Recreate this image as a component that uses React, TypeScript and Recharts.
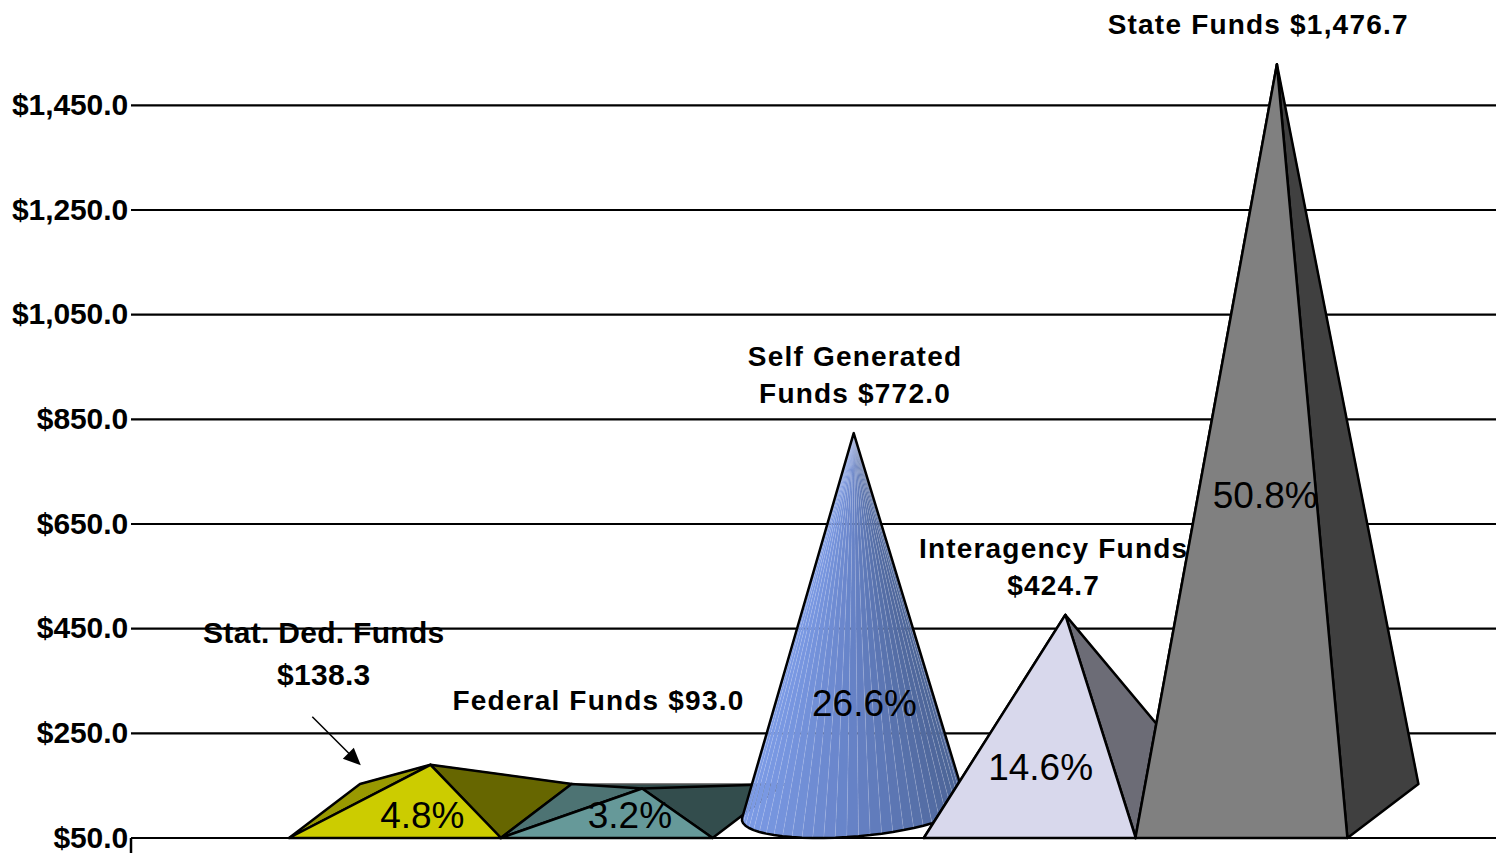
import React from 'react';
import { Bar, CartesianGrid, ComposedChart, Line, XAxis, YAxis } from 'recharts';

const categories = ['Stat. Ded. Funds', 'Federal Funds', 'Self Generated Funds', 'Interagency Funds', 'State Funds'];
const amounts = [138.3, 93.0, 772.0, 424.7, 1476.7];
const shares = ['4.8%', '3.2%', '26.6%', '14.6%', '50.8%'];
const labelLines = [
  ['Stat. Ded. Funds', '$138.3'],
  ['Federal Funds $93.0'],
  ['Self Generated', 'Funds $772.0'],
  ['Interagency Funds', '$424.7'],
  ['State Funds $1,476.7'],
];
const yTicks = [50, 250, 450, 650, 850, 1050, 1250, 1450];

const rows = categories.map((name, i) => ({ name, amount: amounts[i], share: shares[i] }));

// front / left side / right side of each solid (index 2 is the cone, shaded separately)
const faceColors = [
  ['#CCCC00', '#999900', '#666600'],
  ['#669999', '#4D7373', '#334D4D'],
  null,
  ['#D8D8EC', '#A0A0B0', '#6C6C76'],
  ['#808080', '#606060', '#404040'],
];

// where the text sits, relative to the category centre and the value position
const nameOffset = [[-71, -159], [-8, -115], [37, -104], [24, -93], [17, -67]];
const shareOffset = [[27.5, 24], [23.5, 0], [46.5, 243], [11, 126], [24, 404]];

const DEPTH_X = 71;
const DEPTH_Y = 54;
const FONT = '"Liberation Sans", Arial, sans-serif';

const pts = (list: number[][]) => list.map((p) => p.join(',')).join(' ');

const mix = (a: number[], b: number[], t: number) => a.map((v, i) => Math.round(v + (b[i] - v) * t));

const coneColor = (u: number) => {
  const left = [124, 155, 230];
  const mid = [102, 130, 198];
  const right = [76, 100, 150];
  const c = u < 0.5 ? mix(left, mid, u * 2) : mix(mid, right, (u - 0.5) * 2);
  return `rgb(${c.join(',')})`;
};

const Cone = ({ x, y, width, height }: any) => {
  const base = y + height;
  const cx = x + width / 2 + DEPTH_X / 2;
  const cy = base - DEPTH_Y / 2;
  const apex = [cx, y - DEPTH_Y / 2];
  const rim = (deg: number) => {
    const t = (deg * Math.PI) / 180;
    return [cx + (Math.cos(t) * width) / 2 + (Math.sin(t) * DEPTH_X) / 2, cy - (Math.sin(t) * DEPTH_Y) / 2];
  };
  // find the two silhouette points, seen from the apex
  let minDeg = 0;
  let maxDeg = 0;
  let minA = Infinity;
  let maxA = -Infinity;
  for (let d = 90; d < 450; d += 1) {
    const p = rim(d);
    const a = Math.atan2(p[0] - apex[0], p[1] - apex[1]);
    if (a < minA) { minA = a; minDeg = d; }
    if (a > maxA) { maxA = a; maxDeg = d; }
  }
  const arc: number[][] = [];
  for (let d = minDeg; d < maxDeg; d += 6) arc.push(rim(d));
  arc.push(rim(maxDeg));
  const xLeft = arc[0][0];
  const xRight = arc[arc.length - 1][0];
  return (
    <g>
      {arc.slice(1).map((p, i) => {
        const u = ((p[0] + arc[i][0]) / 2 - xLeft) / (xRight - xLeft);
        return (
          <polygon
            key={i}
            points={pts([apex, arc[i], p])}
            fill={coneColor(u)}
            stroke="rgba(225,232,250,0.22)"
            strokeWidth={0.5}
          />
        );
      })}
      <polygon points={pts([apex, ...arc])} fill="none" stroke="#000" strokeWidth={2.5} strokeLinejoin="round" />
    </g>
  );
};

const Solid = (props: any) => {
  const { x, y, width, height, index } = props;
  const colors = faceColors[index];
  if (!colors) return <Cone {...props} />;
  const base = y + height;
  const apex = [x + width / 2 + DEPTH_X / 2, y - DEPTH_Y / 2];
  const fl = [x, base];
  const fr = [x + width, base];
  const bl = [x + DEPTH_X, base - DEPTH_Y];
  const br = [x + width + DEPTH_X, base - DEPTH_Y];
  const line = { stroke: '#000', strokeWidth: 2.5, strokeLinejoin: 'round' as const };
  return (
    <g>
      <polygon points={pts([bl, br, apex])} fill={colors[2]} stroke="#555" strokeWidth={1.5} />
      <polygon points={pts([fl, bl, apex])} fill={colors[1]} {...line} />
      <polygon points={pts([fr, br, apex])} fill={colors[2]} {...line} />
      <polygon points={pts([fl, fr, apex])} fill={colors[0]} {...line} />
    </g>
  );
};

const renderText = (props: any) => {
  const { x, y, index } = props;
  const lines = labelLines[index];
  const [nx, ny] = nameOffset[index];
  const [sx, sy] = shareOffset[index];
  const plain = index === 0;
  const lineGap = plain ? 42 : 37;
  return (
    <g key={index}>
      {lines.map((text, i) => (
        <text
          key={i}
          x={x + nx}
          y={y + ny + i * lineGap}
          textAnchor="middle"
          dominantBaseline="central"
          fontFamily={FONT}
          fontWeight="bold"
          fontSize={plain ? 30 : 28}
          letterSpacing={plain ? 0.3 : 1.2}
          fill="#000"
        >
          {text}
        </text>
      ))}
      <text
        x={x + sx}
        y={y + sy}
        textAnchor="middle"
        dominantBaseline="central"
        fontFamily={FONT}
        fontSize={37}
        fill="#000"
      >
        {shares[index]}
      </text>
      {index === 0 && (
        <g>
          <line x1={x - 82.5} y1={y - 75} x2={x - 40} y2={y - 32.5} stroke="#000" strokeWidth={1.5} />
          <polygon
            points={pts([[x - 34, y - 26.5], [x - 52, y - 33], [x - 41, y - 44]])}
            fill="#000"
          />
        </g>
      )}
    </g>
  );
};

const YTick = ({ x, y, payload }: any) => (
  <g>
    <text
      x={x - 1}
      y={y - 1}
      textAnchor="end"
      dominantBaseline="central"
      fontFamily={FONT}
      fontWeight="bold"
      fontSize={30}
      letterSpacing={-0.1}
      fill="#000"
    >
      {`$${payload.value.toLocaleString('en-US', { minimumFractionDigits: 1 })}`}
    </text>
    {payload.value === yTicks[0] && <line x1={x + 2} y1={y} x2={x + 2} y2={y + 15} stroke="#000" strokeWidth={2.5} />}
  </g>
);

export default function App() {
  return (
    <div style={{ position: 'absolute', left: 0, top: 0, width: 1496, height: 853 }}>
      <ComposedChart
        width={1496}
        height={853}
        data={rows}
        barCategoryGap={0}
        margin={{ top: 53, right: 0, bottom: 15, left: 0 }}
      >
        <CartesianGrid
          horizontal
          vertical={false}
          horizontalValues={yTicks}
          stroke="#000"
          strokeWidth={2.2}
        />
        <XAxis
          dataKey="name"
          height={0}
          tick={false}
          tickLine={false}
          padding={{ left: 158, right: 149 }}
          axisLine={{ stroke: '#000', strokeWidth: 3 }}
        />
        <YAxis
          width={131}
          domain={[50, 1550]}
          ticks={yTicks}
          interval={0}
          axisLine={false}
          tickLine={false}
          tickSize={0}
          tick={<YTick />}
        />
        <Bar dataKey="amount" shape={<Solid />} isAnimationActive={false} />
        <Line
          dataKey="amount"
          stroke="none"
          dot={false}
          activeDot={false}
          label={renderText}
          isAnimationActive={false}
        />
      </ComposedChart>
    </div>
  );
}
